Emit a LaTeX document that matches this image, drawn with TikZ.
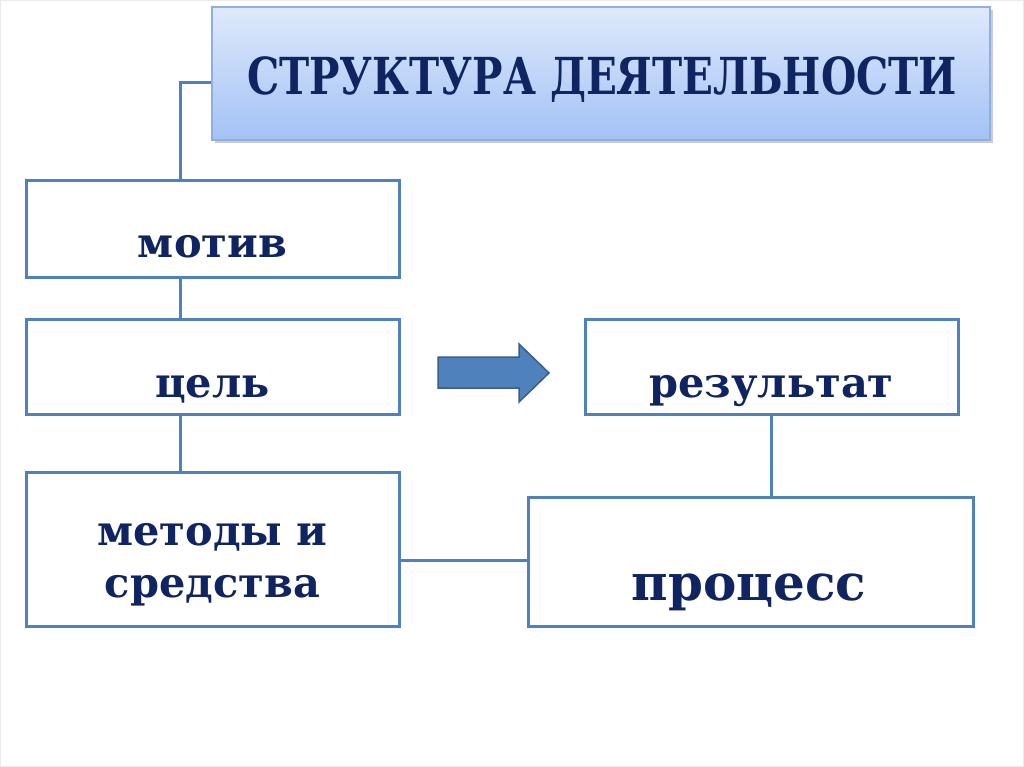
\documentclass[tikz,border=0pt]{standalone}
\usepackage{fontspec}
\setmainfont{DejaVu Serif}
\usetikzlibrary{shadows}
\definecolor{boxblue}{HTML}{4F81BD}
\definecolor{navy}{HTML}{0F2460}
\definecolor{ttop}{HTML}{DEE9FC}
\definecolor{tbot}{HTML}{A3C2F5}
\definecolor{tborder}{HTML}{8EB0DF}
\definecolor{arrborder}{HTML}{385D8A}
\begin{document}
\begin{tikzpicture}[x=1pt,y=-1pt,
  box/.style={draw=boxblue, line width=3pt, fill=white, inner sep=0pt},
  titlebox/.style={draw=tborder, line width=1.2pt, top color=ttop, bottom color=tbot, inner sep=0pt,
    drop shadow={shadow xshift=3pt, shadow yshift=-3pt, fill=black, opacity=0.2}},
  conn/.style={draw=boxblue, line width=3pt},
  lbl/.style={text=navy, font=\bfseries\fontsize{41.5}{52}\selectfont, inner sep=0pt, align=center},
  biglbl/.style={text=navy, font=\bfseries\fontsize{50}{60}\selectfont, inner sep=0pt}]
\useasboundingbox (0,0) rectangle (1024,767);
\fill[white] (0,0) rectangle (1024,767);
\draw[black!8, line width=1pt] (0.5,0.5) rectangle (1023.5,766.5);

% boxes
\node[titlebox, minimum width=778pt, minimum height=133pt] (title) at (601,73.5) {};
\node[box, minimum width=373pt, minimum height=96pt] (motiv) at (212.5,229) {};
\node[box, minimum width=373pt, minimum height=95pt] (cel) at (212.5,366.5) {};
\node[box, minimum width=373pt, minimum height=154pt] (metody) at (212.5,549) {};
\node[box, minimum width=373pt, minimum height=95pt] (rez) at (771.5,366.5) {};
\node[box, minimum width=445pt, minimum height=129pt] (proc) at (750.5,561.5) {};

% labels
\node[text=navy, anchor=base, inner sep=0pt] (ttext) at (602,95)
  {\resizebox{710pt}{\height}{\bfseries\fontsize{51}{51}\selectfont СТРУКТУРА ДЕЯТЕЛЬНОСТИ}};
\node[lbl, anchor=base] (lmotiv) at (212.5,258) {мотив};
\node[lbl, anchor=base] (lcel) at (212.5,397) {цель};
\node[lbl] (lmetody) at (212.5,565) {методы и\\средства};
\node[lbl, anchor=base] (lrez) at (771.5,397) {результат};
\node[biglbl, anchor=base] (lproc) at (749,600) {процесс};

% connectors
\coordinate (lx) at (180,83);
\coordinate (hy) at (0,560);
\draw[conn] (title.west |- lx) -| (motiv.north -| lx);
\draw[conn] (motiv.south -| lx) -- (cel.north -| lx);
\draw[conn] (cel.south -| lx) -- (metody.north -| lx);
\draw[conn] (metody.east |- hy) -- (proc.west |- hy);
\draw[conn] (rez.south) -- (rez.south |- proc.north);

% block arrow
\draw[fill=boxblue, draw=arrborder, line width=1.5pt, line join=miter]
  (438,357) -- (519,357) -- (519,344) -- (549,373) -- (519,402) -- (519,388) -- (438,388) -- cycle;
\end{tikzpicture}
\end{document}
